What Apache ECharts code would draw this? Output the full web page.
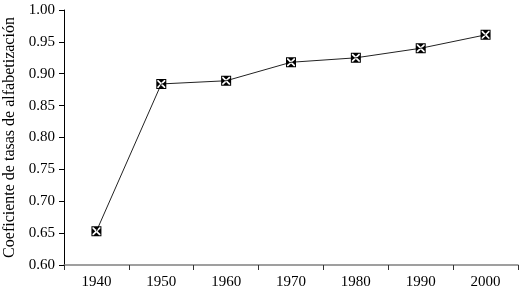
<!DOCTYPE html>
<html><head><meta charset="utf-8">
<script src="https://cdn.jsdelivr.net/npm/echarts@6/dist/echarts.min.js"></script>
<style>html,body{margin:0;padding:0;background:#fff}#c{width:521px;height:297px}</style>
</head><body><div id="c"></div>
<script>
const years = ['1940','1950','1960','1970','1980','1990','2000'];
const values = [0.653, 0.884, 0.889, 0.918, 0.925, 0.940, 0.961];
const yTicks = {min:0.60, max:1.00, interval:0.05};
const yName = 'Coeficiente de tasas de alfabetización';

const sym = 'path://M0,0L10,0L10,10L0,10ZM1,1L1,9L9,9L9,1ZM2.2,1L7.8,1L5,3.8ZM7.8,9L2.2,9L5,6.2ZM1,7.8L1,2.2L3.8,5ZM9,2.2L9,7.8L6.2,5Z';
const chart = echarts.init(document.getElementById('c'));
chart.setOption({
  animation:false,
  grid:{left:64, right:3, top:10, bottom:32, outerBoundsMode:'none', containLabel:false},
  xAxis:{type:'category', data:years, boundaryGap:true,
    axisLine:{lineStyle:{color:'#808080', width:1.5}},
    axisTick:{show:true, length:5, lineStyle:{color:'#333'}},
    axisLabel:{color:'#000', fontFamily:'Liberation Serif', fontSize:15, margin:10}},
  yAxis:{type:'value', min:yTicks.min, max:yTicks.max, interval:yTicks.interval,
    name:yName, nameLocation:'middle', nameGap:46,
    nameTextStyle:{color:'#000', fontFamily:'Liberation Serif', fontSize:16},
    axisLine:{show:true, lineStyle:{color:'#000', width:1}},
    axisTick:{show:true, length:5, lineStyle:{color:'#000'}},
    splitLine:{show:false},
    axisLabel:{color:'#000', fontFamily:'Liberation Serif', fontSize:15, margin:9,
      formatter:v=>v.toFixed(2)}},
  series:[{type:'line', data:values, symbol:sym, symbolSize:10,
    lineStyle:{color:'#222', width:1},
    itemStyle:{color:'#000', borderWidth:0}}]
});
</script></body></html>
